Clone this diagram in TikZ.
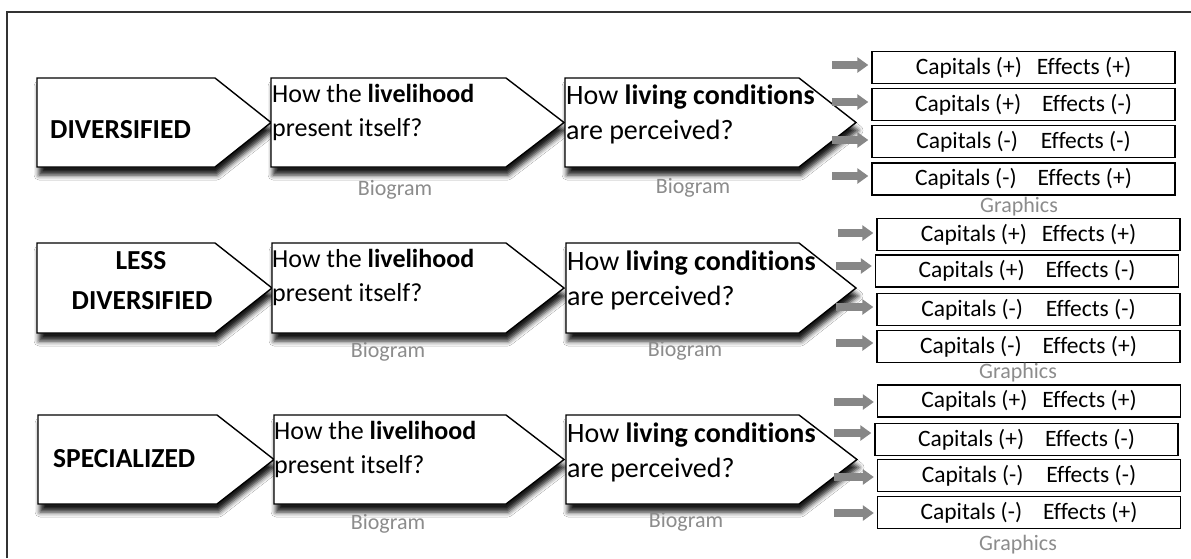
\documentclass[tikz,border=0pt]{standalone}
\usepackage{fontspec}
\setmainfont[Ligatures={NoCommon,NoContextual}]{Carlito}
\usetikzlibrary{shadows.blur,arrows.meta,calc}
\definecolor{arrowgray}{RGB}{135,135,135}
\definecolor{labelgray}{RGB}{140,140,140}
\newcommand{\mkchev}[6]{%
  \path[chev] (#1,#4) -- (#2,#4) -- (#3,{(#4+#5)/2}) -- (#2,#5) -- (#1,#5) -- cycle;
  \coordinate (#6) at (#3,{(#4+#5)/2});}
\begin{document}
\begin{tikzpicture}[x=1pt,y=-1pt,
  chev/.style={draw=black,line width=1.4pt,fill=white,line join=miter,
    blur shadow={shadow xshift=2pt,shadow yshift=-8pt,shadow blur radius=5pt,shadow opacity=90}},
  cattext/.style={inner sep=0pt,font=\fontsize{27.5}{32}\selectfont\bfseries},
  btext/.style={inner sep=0pt,anchor=base west,font=\fontsize{26}{31}\selectfont},
  ctext/.style={inner sep=0pt,anchor=base west,font=\fontsize{28}{33}\selectfont},
  capbox/.style={draw=black,line width=1.4pt,fill=white,minimum width=303pt,minimum height=32pt,
    inner sep=0pt,font=\fontsize{23.5}{28}\selectfont},
  lbl/.style={inner sep=0pt,text=labelgray,font=\fontsize{22}{26}\selectfont},
  garrow/.style={draw=arrowgray,line width=7.5pt,-{Triangle[length=11pt,width=15pt]},shorten >=3pt}
]
\useasboundingbox (0,0) rectangle (1191,558);
\fill[white] (0,0) rectangle (1191,558);
% frame
\draw[line width=1.2pt,black!80] (7,558) -- (7,12) -- (1191,12);

% ---------- Row 1 ----------
\mkchev{37}{215}{271}{78}{167}{tA1}
\mkchev{271}{506}{564}{78}{167}{tB1}
\mkchev{565}{799}{856}{78}{167}{tC1}
\node[cattext,anchor=base west] (cat1) at (50,138) {DIVERSIFIED};
\node[btext] (b1l1) at (272,102) {How the \textbf{livelihood}};
\node[btext] (b1l2) at (272,136) {present itself?};
\node[ctext] (c1l1) at (566,104) {How \textbf{living conditions}};
\node[ctext] (c1l2) at (566,139) {are perceived?};
\node[lbl] (bio11) at (395,190) {Biogram};
\node[lbl] (bio12) at (693,188) {Biogram};

\node[capbox] (k11) at (1023.5,67.5) {Capitals (+)\hspace{15pt}Effects (+)};
\node[capbox] (k12) at (1023.5,104.5) {Capitals (+)\hspace{21pt}Effects (-)};
\node[capbox] (k13) at (1023.5,141.5) {Capitals (-)\hspace{23pt}Effects (-)};
\node[capbox] (k14) at (1023.5,179) {Capitals (-)\hspace{21pt}Effects (+)};
\node[lbl] (g1) at (1019,207) {Graphics};
\coordinate (s11) at (832,65);
\coordinate (s12) at (832,102);
\coordinate (s13) at (832,140);
\coordinate (s14) at (832,176);
\draw[garrow] (s11) -- (s11 -| k11.west);
\draw[garrow] (s12) -- (s12 -| k12.west);
\draw[garrow] (s13) -- (s13 -| k13.west);
\draw[garrow] (s14) -- (s14 -| k14.west);

% ---------- Row 2 ----------
\mkchev{37}{215}{272}{243}{333}{tA2}
\mkchev{272}{506}{564}{243}{333}{tB2}
\mkchev{566}{799}{856}{243}{333}{tC2}
\node[cattext,anchor=base] (cat2a) at (141,269) {LESS};
\node[cattext,anchor=base] (cat2b) at (142,309) {DIVERSIFIED};
\node[btext] (b2l1) at (272,267) {How the \textbf{livelihood}};
\node[btext] (b2l2) at (272,301) {present itself?};
\node[ctext] (c2l1) at (567,270) {How \textbf{living conditions}};
\node[ctext] (c2l2) at (567,305) {are perceived?};
\node[lbl] (bio21) at (388,352) {Biogram};
\node[lbl] (bio22) at (685,351) {Biogram};

\node[capbox] (k21) at (1028.5,234.5) {Capitals (+)\hspace{15pt}Effects (+)};
\node[capbox] (k22) at (1027,271) {Capitals (+)\hspace{21pt}Effects (-)};
\node[capbox] (k23) at (1028.5,309.5) {Capitals (-)\hspace{23pt}Effects (-)};
\node[capbox] (k24) at (1028.5,346.5) {Capitals (-)\hspace{21pt}Effects (+)};
\node[lbl] (g2) at (1018,373) {Graphics};
\coordinate (s21) at (838,233);
\coordinate (s22) at (836,266);
\coordinate (s23) at (836,307);
\coordinate (s24) at (836,343);
\draw[garrow] (s21) -- (s21 -| k21.west);
\draw[garrow] (s22) -- (s22 -| k22.west);
\draw[garrow] (s23) -- (s23 -| k23.west);
\draw[garrow] (s24) -- (s24 -| k24.west);

% ---------- Row 3 ----------
\mkchev{38}{217}{274}{415}{504}{tA3}
\mkchev{274}{506}{564}{415}{504}{tB3}
\mkchev{566}{799}{857}{415}{504}{tC3}
\node[cattext,anchor=base west] (cat3) at (53,467) {SPECIALIZED};
\node[btext] (b3l1) at (274,439) {How the \textbf{livelihood}};
\node[btext] (b3l2) at (274,473) {present itself?};
\node[ctext] (c3l1) at (567,442) {How \textbf{living conditions}};
\node[ctext] (c3l2) at (567,477) {are perceived?};
\node[lbl] (bio31) at (388,524) {Biogram};
\node[lbl] (bio32) at (686,522) {Biogram};

\node[capbox] (k31) at (1029,401) {Capitals (+)\hspace{15pt}Effects (+)};
\node[capbox] (k32) at (1026.5,439.5) {Capitals (+)\hspace{21pt}Effects (-)};
\node[capbox] (k33) at (1029,475.5) {Capitals (-)\hspace{23pt}Effects (-)};
\node[capbox] (k34) at (1029,512.5) {Capitals (-)\hspace{21pt}Effects (+)};
\node[lbl] (g3) at (1018,545) {Graphics};
\coordinate (s31) at (834,402);
\coordinate (s32) at (834,433);
\coordinate (s33) at (834,477);
\coordinate (s34) at (834,513);
\draw[garrow] (s31) -- (s31 -| k31.west);
\draw[garrow] (s32) -- (s32 -| k32.west);
\draw[garrow] (s33) -- (s33 -| k33.west);
\draw[garrow] (s34) -- (s34 -| k34.west);
\end{tikzpicture}
\end{document}
